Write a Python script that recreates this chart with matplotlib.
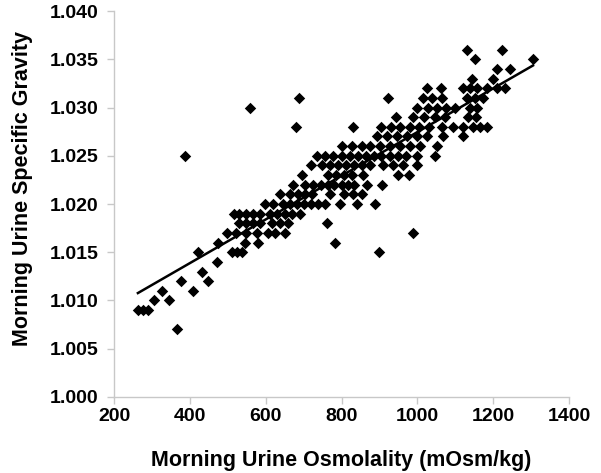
import numpy as np
import matplotlib.pyplot as plt

# specific gravity levels (measured in 0.001 steps) and the osmolality
# readings found at each level
sg_levels = [1.007, 1.009, 1.010, 1.011, 1.012, 1.013, 1.014, 1.015, 1.016,
             1.017, 1.018, 1.019, 1.020, 1.021, 1.022, 1.023, 1.024, 1.025,
             1.026, 1.027, 1.028, 1.029, 1.030, 1.031, 1.032, 1.033, 1.034,
             1.035, 1.036]

osm_by_level = [
    [366],
    [263, 277, 290],
    [305, 345],
    [327, 408],
    [376, 448],
    [432],
    [471],
    [422, 511, 524, 538, 899],
    [474, 545, 580, 783],
    [497, 522, 547, 577, 606, 625, 650, 988],
    [530, 548, 566, 585, 617, 638, 658, 762],
    [516, 530, 548, 566, 585, 611, 630, 650, 670, 690],
    [598, 619, 646, 664, 683, 701, 719, 738, 756, 796, 841, 888],
    [638, 664, 685, 704, 722, 770, 806, 830, 854],
    [672, 705, 725, 745, 764, 780, 801, 818, 833, 867, 907],
    [695, 764, 785, 806, 828, 857, 950, 978],
    [719, 748, 770, 791, 812, 833, 854, 875, 909, 936, 962, 999],
    [387, 735, 756, 778, 800, 822, 843, 865, 885, 905, 928, 950, 970, 999, 1046],
    [801, 828, 854, 875, 901, 928, 954, 981, 1007, 1052],
    [893, 920, 946, 973, 999, 1025, 1068, 1120],
    [680, 830, 905, 930, 955, 980, 1005, 1030, 1065, 1094, 1120, 1147, 1165, 1184],
    [943, 988, 1017, 1046, 1073, 1134, 1155],
    [559, 999, 1028, 1052, 1075, 1100, 1139, 1157],
    [688, 922, 1015, 1039, 1065, 1131, 1152, 1173],
    [1025, 1062, 1120, 1139, 1157, 1184, 1210, 1231],
    [1144, 1200],
    [1210, 1245],
    [1152, 1305],
    [1131, 1223],
]

x_ticks = [200, 400, 600, 800, 1000, 1200, 1400]
y_ticks = [1.000, 1.005, 1.010, 1.015, 1.020, 1.025, 1.030, 1.035, 1.040]

osm = np.array([v for row in osm_by_level for v in row], dtype=float)
sg = np.array([lvl for lvl, row in zip(sg_levels, osm_by_level) for _ in row])

plt.rcParams['font.family'] = ['Liberation Sans', 'DejaVu Sans']
plt.rcParams['font.weight'] = 'bold'

fig = plt.figure(figsize=(6.01, 4.73), dpi=100)
ax = fig.add_axes([0.1897, 0.1607, 0.7571, 0.816])

ax.scatter(osm, sg, marker='D', s=34, color='black', linewidths=0, zorder=3)

# linear trend line over the data range
slope, intercept = np.polyfit(osm, sg, 1)
xs = np.array([osm.min(), osm.max()])
ax.plot(xs, slope * xs + intercept, color='black', linewidth=1.8, zorder=4)

ax.set_xlim(200, 1400)
ax.set_ylim(1.000, 1.040)
ax.set_xticks(x_ticks)
ax.set_yticks(y_ticks)
ax.set_xticklabels([str(t) for t in x_ticks])
ax.set_yticklabels(['%.3f' % t for t in y_ticks])

for side in ['top', 'right']:
    ax.spines[side].set_visible(False)
for side in ['left', 'bottom']:
    ax.spines[side].set_color('#c8c8c8')
    ax.spines[side].set_linewidth(1.0)

ax.tick_params(axis='both', direction='out', length=5, width=1.0,
               color='#c8c8c8', labelsize=14)
ax.tick_params(axis='x', pad=3)
ax.tick_params(axis='y', pad=6)

ax.set_xlabel('Morning Urine Osmolality (mOsm/kg)', fontsize=15.5,
              fontweight='bold', labelpad=18)
ax.set_ylabel('Morning Urine Specific Gravity', fontsize=15.5,
              fontweight='bold')
ax.yaxis.set_label_coords(-0.178, 0.541)

fig.savefig('out.png', dpi=100)
plt.close(fig)
